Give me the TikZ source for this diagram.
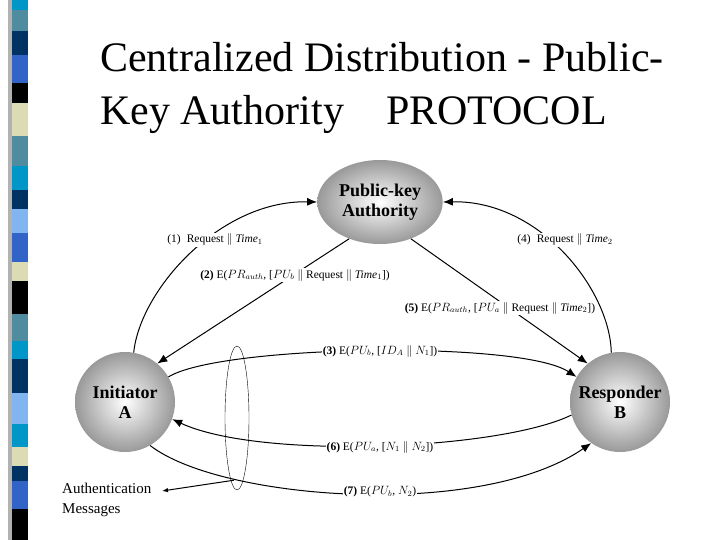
\documentclass[tikz,border=0pt]{standalone}
\usepackage{fontspec}
\setmainfont{Liberation Serif}
\usetikzlibrary{arrows.meta,shapes.geometric}
\begin{document}
\begin{tikzpicture}[x=1pt,y=-1pt,
  ball/.style={draw=none,inner color=white,outer color=gray!80,font=\bfseries\fontsize{18}{20}\selectfont,align=center},
  msg/.style={-{Latex[length=10pt,width=8pt]},line width=1pt},
  lab/.style={fill=white,inner sep=1pt,font=\fontsize{11.5}{13}\selectfont}]
\useasboundingbox (0,0) rectangle (720,540);
\fill[white] (0,0) rectangle (720,540);
% side strip
\fill[gray!60] (8,0) rectangle (12,540);
\foreach \a/\b/\c in {0/10/{0,150,200},10/31/{80,140,160},31/55/{0,50,100},55/83/{50,100,200},83/103/{0,0,0},103/136/{220,220,180},136/166/{80,140,160},166/190/{0,150,200},190/209/{0,50,100},209/233/{130,180,240},233/262/{50,100,200},262/281/{220,220,180},281/314/{0,0,0},314/341/{80,140,160},341/359/{0,150,200},359/393/{0,50,100},393/424/{130,180,240},424/447/{0,150,200},447/466/{220,220,180},466/481/{0,50,100},481/509/{50,100,200},509/540/{0,0,0}}
  {\definecolor{tmp}{RGB}{\c}\fill[tmp] (12,\a) rectangle (28,\b);}
% title
\node[anchor=base west,inner sep=0,font=\fontsize{42}{44}\selectfont] (t1) at (100,72) {Centralized Distribution - Public-};
\node[anchor=base west,inner sep=0,font=\fontsize{42}{44}\selectfont] (t2) at (100,125) {Key Authority\quad PROTOCOL};
% nodes
\node[ball,ellipse,minimum width=114,minimum height=84] (P) at (380,202) {Public-key\\Authority};
\node[ball,circle,minimum size=100] (A) at (125,402) {Initiator\\A};
\node[ball,circle,minimum size=100] (B) at (620,402) {Responder\\B};
% messages
\draw[msg] (A.80) .. controls (140,290) and (220,200) .. (P.west);
\node[lab] (l1) at (215,240) {(1)\; Request $\|$ \textit{Time}$_1$};
\draw[msg] (P.230) -- (A.50);
\node[lab] (l2) at (295,275) {\textbf{(2)} E($PR_{auth}$, [$PU_b$ $\|$ Request $\|$ \textit{Time}$_1$])};
\draw[msg] (B.100) .. controls (610,290) and (540,200) .. (P.east);
\node[lab] (l4) at (565,240) {(4)\; Request $\|$ \textit{Time}$_2$};
\draw[msg] (P.310) -- (B.130);
\node[lab] (l5) at (500,308) {\textbf{(5)} E($PR_{auth}$, [$PU_a$ $\|$ Request $\|$ \textit{Time}$_2$])};
\draw[msg] (A.30) .. controls (220,345) and (520,340) .. (B.150);
\node[lab] (l3) at (380,351) {\textbf{(3)} E($PU_b$, [$ID_A$ $\|$ $N_1$])};
\draw[msg] (B.195) .. controls (500,450) and (260,460) .. (A.340);
\node[lab] (l6) at (380,447) {\textbf{(6)} E($PU_a$, [$N_1$ $\|$ $N_2$])};
\draw[msg] (A.300) .. controls (220,500) and (480,520) .. (B.235);
\node[lab] (l7) at (380,492) {\textbf{(7)} E($PU_b$, $N_2$)};
% authentication
\node[draw,ellipse,thin,minimum width=24,minimum height=144,inner sep=0] (E) at (237,418) {};
\node[anchor=north west,align=left,inner sep=0,font=\fontsize{15}{20}\selectfont] (am) at (62,483) {Authentication\\Messages};
\draw[-{Latex[length=6pt]},line width=1pt] (E.south) ++(-3,-10) coordinate (e1) -- (162,491) coordinate (e2);
\end{tikzpicture}
\end{document}
